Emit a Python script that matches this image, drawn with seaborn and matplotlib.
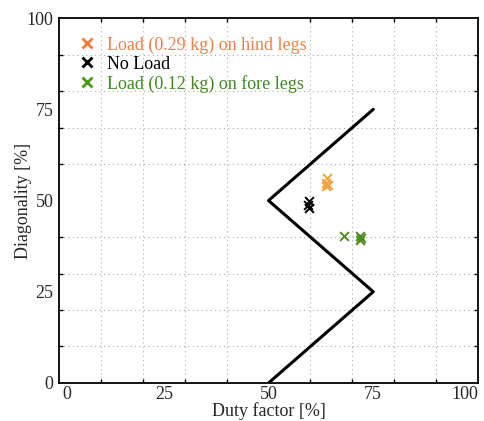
import matplotlib
matplotlib.use("Agg")
import matplotlib.pyplot as plt
import matplotlib.transforms as mtransforms
import seaborn as sns
import pandas as pd
from matplotlib.lines import Line2D
from matplotlib.ticker import MultipleLocator, FixedLocator

# Data
boundary_x = [50, 75, 50, 75]
boundary_y = [0, 25, 50, 75]

hind_x = [64.0, 63.8, 63.6, 64.2]
hind_y = [56.1, 54.7, 53.9, 54.2]
noload_x = [59.6, 59.5, 59.7]
noload_y = [49.8, 48.8, 47.9]
fore_x = [68.0, 71.8, 72.0, 71.9]
fore_y = [40.3, 40.4, 39.6, 39.2]

labels = ["Load (0.29 kg) on hind legs", "No Load", "Load (0.12 kg) on fore legs"]
tick_labels = [0, 25, 50, 75, 100]

sns.set_style("white")
plt.rcParams['font.family'] = ['Liberation Serif', 'DejaVu Serif']
plt.rcParams['font.size'] = 13

fig = plt.figure(figsize=(4.84, 4.21), dpi=100)
ax = fig.add_axes([0.122, 0.0903, 0.8656, 0.8667])

bdf = pd.DataFrame({"x": boundary_x, "y": boundary_y})
sns.lineplot(data=bdf, x="x", y="y", sort=False, estimator=None, color="black", linewidth=2.2, ax=ax)

pt_colors = ["#F6A23A", "#000000", "#4C8A1E"]
for xs, ys, c in zip([hind_x, noload_x, fore_x], [hind_y, noload_y, fore_y], pt_colors):
    sns.scatterplot(x=xs, y=ys, marker="x", s=40, color=c, linewidth=1.4, ax=ax)

ax.set_xlim(0, 100)
ax.set_ylim(0, 100)
ax.xaxis.set_major_locator(FixedLocator(tick_labels))
ax.yaxis.set_major_locator(FixedLocator(tick_labels))
ax.xaxis.set_minor_locator(MultipleLocator(10))
ax.yaxis.set_minor_locator(MultipleLocator(10))
ax.set_xticklabels([str(t) for t in tick_labels])
ax.set_yticklabels([str(t) for t in tick_labels])
ax.tick_params(which="major", length=0, labelsize=13, pad=4)
ax.tick_params(axis="x", which="major", pad=2.5)
ax.tick_params(which="minor", direction="in", length=3, width=1, top=True, right=True, bottom=True, left=True, color="black")
ax.grid(which="minor", linestyle=(0, (1, 3)), color="#aaaaaa", linewidth=0.8)
ax.grid(which="major", visible=False)
for sp in ax.spines.values():
    sp.set_visible(True)
    sp.set_color("black")
    sp.set_linewidth(1.3)

# end x tick labels sit inside the axes span, as in the reference
xt = ax.get_xticklabels()
xt[0].set_ha("left")
xt[0].set_transform(xt[0].get_transform() + mtransforms.ScaledTranslation(3 / 100, 0, fig.dpi_scale_trans))
xt[-1].set_ha("right")

ax.set_xlabel("Duty factor [%]", fontsize=13, labelpad=-1)
ax.set_ylabel("Diagonality [%]", fontsize=13, labelpad=-4)

leg_marker_colors = ["#F47A36", "#000000", "#4A9A1A"]
leg_text_colors = ["#F07F4A", "#000000", "#3F8A20"]
handles = [Line2D([], [], linestyle="none", marker="x", markersize=7, markeredgewidth=2, color=c)
           for c in leg_marker_colors]
leg = ax.legend(handles, labels, loc="upper left", frameon=False, fontsize=13,
                handlelength=0.8, handletextpad=0.7, labelspacing=0.12,
                borderaxespad=0.3, bbox_to_anchor=(0.02, 0.985))
for t, c in zip(leg.get_texts(), leg_text_colors):
    t.set_color(c)

fig.savefig("out.png", dpi=100)
